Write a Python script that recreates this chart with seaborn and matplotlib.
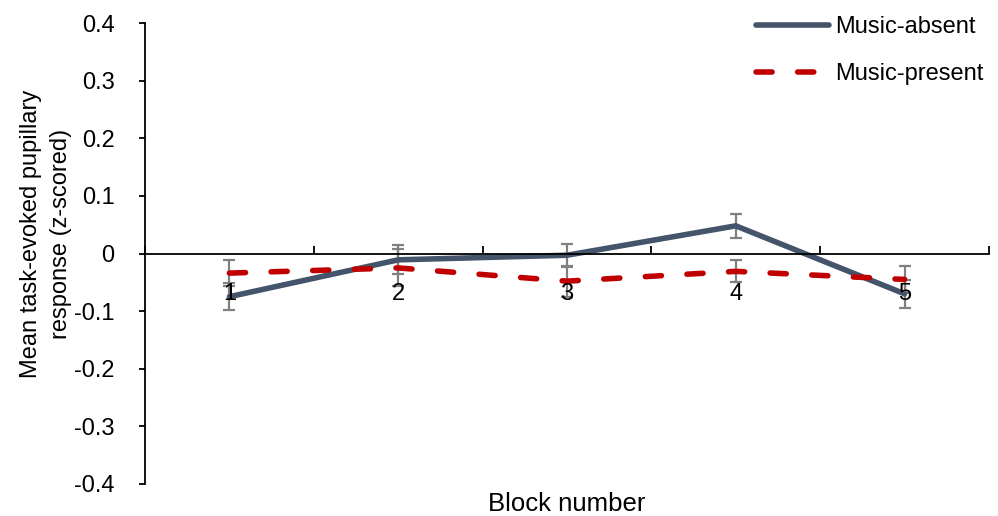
import matplotlib
matplotlib.use("Agg")
import matplotlib.pyplot as plt
import seaborn as sns
import pandas as pd
import numpy as np

# ---- data ----
blocks = ["1", "2", "3", "4", "5"]
music_absent = [-0.075, -0.011, -0.003, 0.048, -0.070]
music_absent_err = [0.023, 0.025, 0.020, 0.021, 0.024]
music_present = [-0.034, -0.025, -0.048, -0.031, -0.045]
music_present_err = [0.023, 0.032, 0.027, 0.019, 0.024]
series_names = ["Music-absent", "Music-present"]
y_ticks = [-0.4, -0.3, -0.2, -0.1, 0, 0.1, 0.2, 0.3, 0.4]
y_tick_labels = ["-0.4", "-0.3", "-0.2", "-0.1", "0", "0.1", "0.2", "0.3", "0.4"]

sns.set_theme(style="white")
plt.rcParams["font.family"] = ["Liberation Sans", "DejaVu Sans"]
plt.rcParams["text.color"] = "black"
plt.rcParams["xtick.color"] = "black"
plt.rcParams["ytick.color"] = "black"
plt.rcParams["axes.labelcolor"] = "black"

pos = np.arange(len(blocks))
df = pd.DataFrame({
    "pos": np.concatenate([pos, pos]),
    "value": music_absent + music_present,
    "err": music_absent_err + music_present_err,
    "series": [series_names[0]] * len(blocks) + [series_names[1]] * len(blocks),
})

colors = {"Music-absent": "#44546A", "Music-present": "#C00000"}
LW = 4.0
DASH = (2.9, 4.6)

fig = plt.figure(figsize=(9.98, 5.16), dpi=100)
ax = fig.add_axes([145 / 998, 1 - 484 / 516, (989 - 145) / 998, (484 - 23) / 516])

# error bars (gray)
for name in series_names:
    sub = df[df["series"] == name]
    ax.errorbar(sub["pos"], sub["value"], yerr=sub["err"], fmt="none",
                ecolor="#808080", elinewidth=1.6, capsize=4.5, capthick=1.6, zorder=1.8)

sns.lineplot(data=df, x="pos", y="value", hue="series", style="series",
             palette=colors, dashes={"Music-absent": "", "Music-present": DASH},
             linewidth=LW, ax=ax, zorder=2, estimator=None, sort=False)
for ln in ax.get_lines():
    ln.set_linewidth(LW)
    ln.set_solid_capstyle("round")
    ln.set_dash_capstyle("round")

ax.set_xlim(-0.5, 4.5)
ax.set_ylim(-0.4, 0.4)

# spines
for s in ["top", "right"]:
    ax.spines[s].set_visible(False)
ax.spines["bottom"].set_position(("data", 0))
ax.spines["left"].set_bounds(-0.4, 0.4)
for s in ["left", "bottom"]:
    ax.spines[s].set_color("black")
    ax.spines[s].set_linewidth(1.3)

ax.set_yticks(y_ticks)
ax.set_yticklabels(y_tick_labels)
ax.tick_params(axis="y", direction="out", length=4, width=1.3, color="black",
               labelsize=17, pad=18, left=True, labelcolor="black")

# x: major ticks at boundaries (pointing up), minor ticks at centers carry labels
ax.set_xticks(np.arange(-0.5, 5.0, 1.0))
ax.set_xticklabels([])
ax.tick_params(axis="x", which="major", direction="in", length=6, width=1.3,
               color="black", bottom=True)
ax.set_xticks(pos, minor=True)
ax.set_xticklabels(blocks, minor=True)
ax.tick_params(axis="x", which="minor", length=0, labelsize=17, pad=21, labelcolor="black")
ax.set_axisbelow(False)

ax.set_xlabel("")
ax.set_ylabel("")
fig.text(567 / 998, 1 - 504 / 516, "Block number", fontsize=18.5, ha="center", va="center",
         color="black")
fig.text(46 / 998, 1 - 234 / 516, "Mean task-evoked pupillary\nresponse (z-scored)",
         rotation=90, fontsize=17, ha="center", va="center", linespacing=1.45,
         multialignment="center", color="black")

leg = ax.legend(loc="upper right", bbox_to_anchor=(1005 / 998, 1 - (-5) / 516),
                bbox_transform=fig.transFigure, frameon=False, fontsize=17,
                handlelength=3.1, handletextpad=0.25, labelspacing=1.05,
                title=None)
for h in leg.get_lines():
    h.set_linewidth(LW)
    h.set_solid_capstyle("round")
    h.set_dash_capstyle("round")
for t in leg.get_texts():
    t.set_color("black")

fig.savefig("out.png", dpi=100, facecolor="white")
